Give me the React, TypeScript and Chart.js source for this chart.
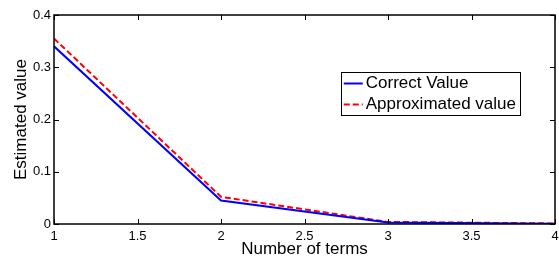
import React, { useEffect, useRef } from "react";
import { Chart, registerables } from "chart.js";
Chart.register(...registerables);

const terms = [1, 2, 3, 4];
const correctValue = [0.34, 0.045, 0.003, 0.0005];
const approximatedValue = [0.355, 0.052, 0.004, 0.001];
const xTicks = [1, 1.5, 2, 2.5, 3, 3.5, 4];
const yTicks = [0, 0.1, 0.2, 0.3, 0.4];
const seriesLabels = ["Correct Value", "Approximated value"];
const xTitle = "Number of terms";
const yTitle = "Estimated value";

const FONT = "'Liberation Sans', Arial, sans-serif";

const framePlugin = {
  id: "frame",
  afterDatasetsDraw(chart: any) {
    const { ctx, chartArea: a, scales } = chart;
    ctx.save();
    ctx.strokeStyle = "#000";
    ctx.lineWidth = 1.5;
    ctx.strokeRect(a.left, a.top, a.right - a.left, a.bottom - a.top);
    ctx.lineWidth = 1;
    const tl = 5;
    ctx.beginPath();
    for (const v of xTicks) {
      const x = Math.round(scales.x.getPixelForValue(v)) + 0.5;
      ctx.moveTo(x, a.bottom);
      ctx.lineTo(x, a.bottom - tl);
      ctx.moveTo(x, a.top);
      ctx.lineTo(x, a.top + tl);
    }
    for (const v of yTicks) {
      const y = Math.round(scales.y.getPixelForValue(v)) + 0.5;
      ctx.moveTo(a.left, y);
      ctx.lineTo(a.left + tl, y);
      ctx.moveTo(a.right, y);
      ctx.lineTo(a.right - tl, y);
    }
    ctx.stroke();
    ctx.restore();
  },
};

const legendPlugin = {
  id: "boxLegend",
  afterDraw(chart: any) {
    const { ctx, chartArea: a } = chart;
    const ds = chart.data.datasets;
    ctx.save();
    ctx.font = `17px ${FONT}`;
    let maxW = 0;
    for (const d of ds) maxW = Math.max(maxW, ctx.measureText(d.label).width);
    const w = 25 + maxW + 4;
    const h = 43;
    const right = a.right - 35;
    const left = right - w;
    const top = a.top + 57;
    ctx.fillStyle = "#fff";
    ctx.fillRect(left, top, w, h);
    ctx.strokeStyle = "#000";
    ctx.lineWidth = 1;
    ctx.strokeRect(Math.round(left) + 0.5, Math.round(top) + 0.5, Math.round(w), h);
    ds.forEach((d: any, i: number) => {
      const cy = top + 11.5 + i * 21;
      ctx.beginPath();
      ctx.strokeStyle = d.borderColor;
      ctx.lineWidth = 2;
      ctx.setLineDash(d.borderDash || []);
      ctx.moveTo(left + 3, cy);
      ctx.lineTo(left + 22, cy);
      ctx.stroke();
      ctx.setLineDash([]);
      ctx.fillStyle = "#000";
      ctx.textBaseline = "middle";
      ctx.textAlign = "left";
      ctx.fillText(d.label, left + 25, cy);
    });
    ctx.restore();
  },
};

export default function App() {
  const ref = useRef<HTMLCanvasElement>(null);
  useEffect(() => {
    document.body.style.margin = "0";
    const chart = new Chart(ref.current!, {
      type: "line",
      data: {
        datasets: [
          {
            label: seriesLabels[0],
            data: terms.map((t, i) => ({ x: t, y: correctValue[i] })),
            borderColor: "#0000ff",
            borderWidth: 2,
            pointRadius: 0,
            tension: 0,
          },
          {
            label: seriesLabels[1],
            data: terms.map((t, i) => ({ x: t, y: approximatedValue[i] })),
            borderColor: "#ff0000",
            borderWidth: 2,
            borderDash: [6, 3],
            pointRadius: 0,
            tension: 0,
          },
        ],
      },
      options: {
        responsive: false,
        animation: false,
        layout: { padding: { top: 15, right: 4, left: 0, bottom: 0 } },
        plugins: { legend: { display: false }, tooltip: { enabled: false } },
        scales: {
          x: {
            type: "linear",
            min: 1,
            max: 4,
            afterBuildTicks: (s: any) => {
              s.ticks = xTicks.map((v) => ({ value: v }));
            },
            afterFit: (s: any) => {
              s.height = 33;
              s.paddingLeft = 0;
              s.paddingRight = 0;
            },
            grid: { display: false, drawTicks: false },
            border: { display: false },
            ticks: {
              padding: 5,
              maxRotation: 0,
              autoSkip: false,
              color: "#000",
              font: { family: FONT, size: 13 },
              callback: (v: any) => String(v),
            },
            title: {
              display: true,
              text: xTitle,
              color: "#000",
              font: { family: FONT, size: 17 },
              padding: { top: 0, bottom: -3 },
            },
          },
          y: {
            type: "linear",
            min: 0,
            max: 0.4,
            afterBuildTicks: (s: any) => {
              s.ticks = yTicks.map((v) => ({ value: v }));
            },
            afterFit: (s: any) => {
              s.width = 54;
              s.paddingTop = 0;
              s.paddingBottom = 0;
            },
            grid: { display: false, drawTicks: false },
            border: { display: false },
            ticks: {
              padding: 3,
              autoSkip: false,
              color: "#000",
              font: { family: FONT, size: 13 },
              callback: (v: any) => String(v),
            },
            title: {
              display: true,
              text: yTitle,
              color: "#000",
              font: { family: FONT, size: 17 },
              padding: { top: 11, bottom: 0 },
            },
          },
        },
      },
      plugins: [framePlugin, legendPlugin],
    });
    return () => chart.destroy();
  }, []);
  return <canvas ref={ref} width={559} height={257} style={{ display: "block" }} />;
}
